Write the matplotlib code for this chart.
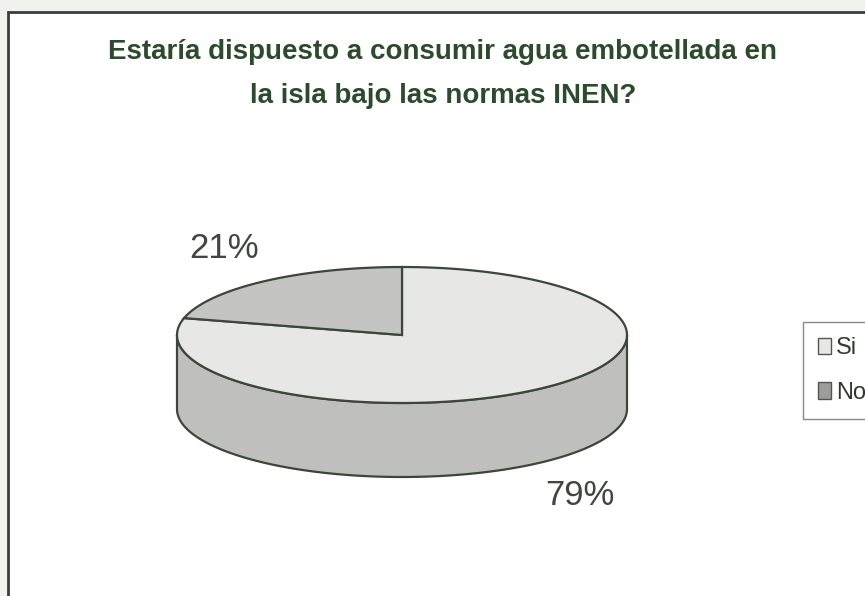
import numpy as np
import matplotlib.pyplot as plt
from matplotlib.patches import Polygon, Rectangle, Patch

# datos de la encuesta
categorias = ['Si', 'No']
porcentajes = [79, 21]
colores_top = ['#e7e7e5', '#c4c5c2']
color_lado = '#bfc0bd'
borde = '#3b473b'

fig = plt.figure(figsize=(8.65, 5.96), dpi=100, facecolor='#f1f1ee')
ax = fig.add_axes([0, 0, 1, 1])
ax.set_xlim(0, 865)
ax.set_ylim(596, 0)
ax.axis('off')

# marco del grafico
ax.add_patch(Rectangle((8, 12), 900, 700, facecolor='white', edgecolor='#3a3f3a', lw=2, zorder=0))

# geometria del pastel 3D
cx, cy = 402, 335
a, b = 225, 68
prof = 74


def punto(t, dy=0):
    t = np.radians(t)
    return np.column_stack([cx + a * np.cos(t), cy - b * np.sin(t) + dy])


# angulos: empieza a las 12 y avanza en sentido horario
fr = np.array(porcentajes) / sum(porcentajes)
limites = 90 - 360 * np.concatenate([[0], np.cumsum(fr)])

# lado frontal (parte visible del cilindro)
t_lado = np.linspace(180, 360, 200)
lado = np.vstack([punto(t_lado), punto(t_lado[::-1], prof)])
ax.add_patch(Polygon(lado, closed=True, facecolor=color_lado, edgecolor=borde, lw=1.6, zorder=1))

# caras superiores
for i in range(len(porcentajes)):
    t = np.linspace(limites[i], limites[i + 1], 200)
    pts = np.vstack([[cx, cy], punto(t)])
    ax.add_patch(Polygon(pts, closed=True, facecolor=colores_top[i], edgecolor=borde, lw=1.6, zorder=2))

# etiquetas de porcentaje
for i, p in enumerate(porcentajes):
    tm = np.radians((limites[i] + limites[i + 1]) / 2)
    lx = cx + 1.29 * a * np.cos(tm)
    ly = cy - 1.61 * b * np.sin(tm) + (prof if np.sin(tm) < 0 else 0)
    ax.text(lx, ly, f'{p}%', ha='center', va='center', fontsize=25,
            family='Liberation Sans', color='#414641')

# titulo
ax.text(442, 52, 'Estaría dispuesto a consumir agua embotellada en', ha='center', va='center',
        fontsize=20, fontweight='bold', family='Liberation Sans', color='#2c4a2c')
ax.text(443, 96, 'la isla bajo las normas INEN?', ha='center', va='center',
        fontsize=20, fontweight='bold', family='Liberation Sans', color='#2c4a2c')

# leyenda
handles = [Patch(facecolor=colores_top[0], edgecolor='#555555', lw=1),
           Patch(facecolor='#9d9e9b', edgecolor='#555555', lw=1)]
leg = ax.legend(handles, categorias, loc='upper left', bbox_to_anchor=(803 / 865, 1 - 322 / 596),
                bbox_transform=fig.transFigure, handlelength=0.55, handleheight=0.7,
                handletextpad=0.2, labelspacing=0.95, borderpad=0.65, borderaxespad=0,
                fancybox=False, prop={'family': 'Liberation Sans', 'size': 17})
leg.get_frame().set_edgecolor('#6a6a6a')
leg.get_frame().set_linewidth(1)
for t in leg.get_texts():
    t.set_color('#2f3a2f')

fig.savefig('out.png', dpi=100, facecolor=fig.get_facecolor())
